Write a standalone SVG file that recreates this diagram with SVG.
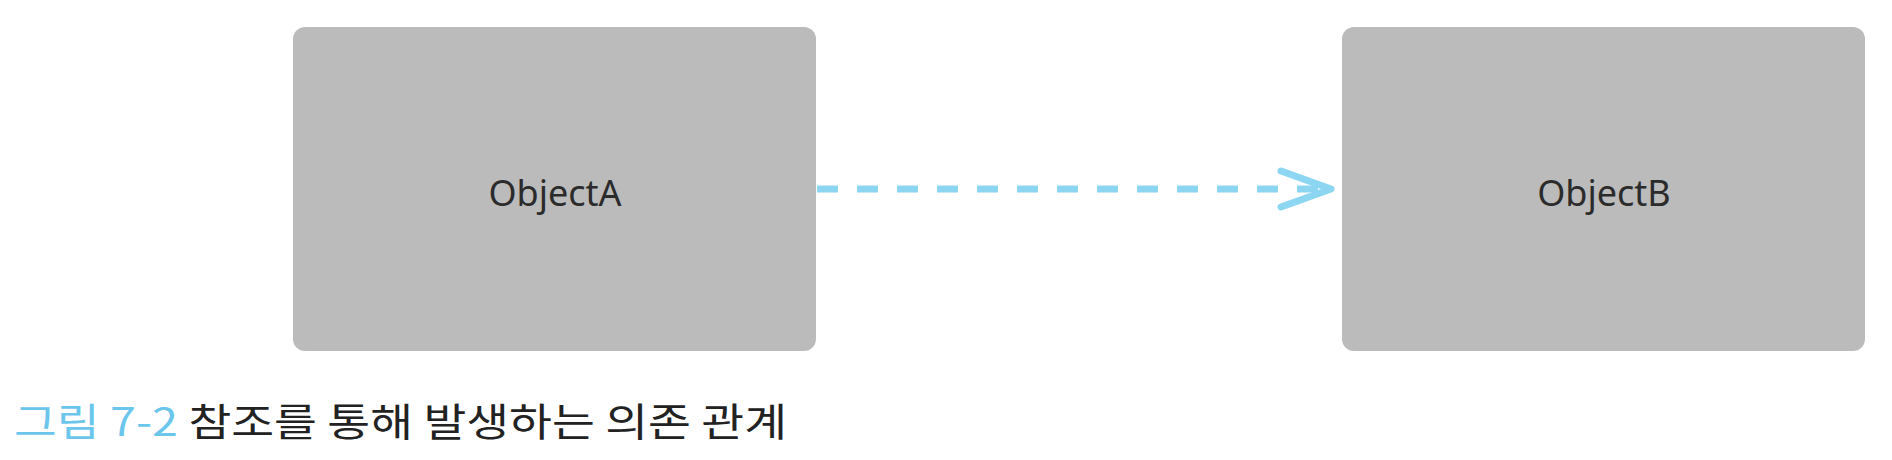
<svg xmlns="http://www.w3.org/2000/svg" width="1892" height="460" viewBox="0 0 1892 460">
  <style>
    .box { fill: #bbbbbb; }
    .label { font-family: "Noto Sans", "Open Sans", sans-serif; font-size: 36px; fill: #2b2b2b; text-anchor: middle; }
    .conn { stroke: #8dd6f2; stroke-width: 7; fill: none; }
    .caption { font-family: "Noto Sans CJK KR", "Noto Sans", sans-serif; font-size: 39px; }
  </style>
  <rect width="1892" height="460" fill="#ffffff"/>
  <g id="objectA">
    <rect class="box" x="293" y="27" width="523" height="324" rx="12"/>
    <text class="label" x="555" y="206">ObjectA</text>
  </g>
  <g id="objectB">
    <rect class="box" x="1342" y="27" width="523" height="324" rx="12"/>
    <text class="label" x="1604" y="206">ObjectB</text>
  </g>
  <g id="connectors">
    <line class="conn" x1="817" y1="189" x2="1326" y2="189" stroke-dasharray="21 19"/>
    <polyline class="conn" stroke-width="8" stroke-linecap="round" stroke-linejoin="round" points="1281,171 1331,189 1281,207"/>
  </g>
  <text class="caption" x="14" y="436" textLength="773" lengthAdjust="spacingAndGlyphs"><tspan fill="#6cc6ec">그림 7-2</tspan><tspan fill="#222222"> 참조를 통해 발생하는 의존 관계</tspan></text>
</svg>
